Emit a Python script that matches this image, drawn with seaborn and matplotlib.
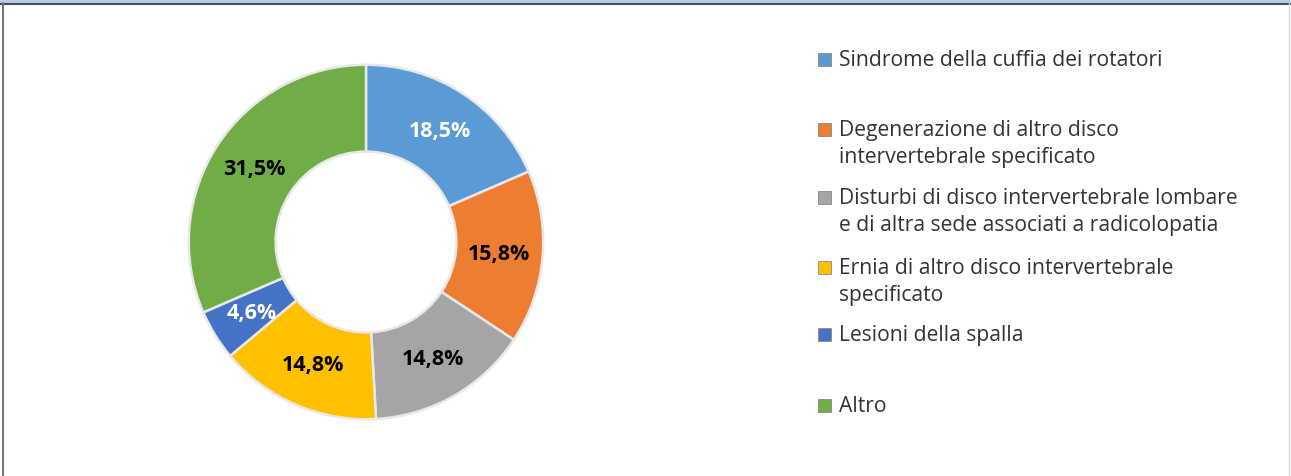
import numpy as np
import matplotlib.pyplot as plt
import seaborn as sns
from matplotlib.patches import Rectangle
from matplotlib.lines import Line2D

sns.set_theme(style="white")
plt.rcParams['font.family'] = ['Open Sans', 'DejaVu Sans']

# Data
categories = [
    "Sindrome della cuffia dei rotatori",
    "Degenerazione di altro disco\nintervertebrale specificato",
    "Disturbi di disco intervertebrale lombare\ne di altra sede associati a radicolopatia",
    "Ernia di altro disco intervertebrale\nspecificato",
    "Lesioni della spalla",
    "Altro",
]
shares = [18.5, 15.8, 14.8, 14.8, 4.6, 31.5]
colors = ["#5B9BD5", "#ED7D31", "#A5A5A5", "#FFC000", "#4472C4", "#70AD47"]
label_colors = ["white", "black", "black", "black", "white", "black"]

W, H = 1291, 477
fig = plt.figure(figsize=(W / 100, H / 100), dpi=100)

# donut: centre (366, 243) px, outer radius 179 px
cx, cy, r = 366, 243, 179
ax = fig.add_axes([(cx - r) / W, (H - cy - r) / H, 2 * r / W, 2 * r / H])
wedges, texts, autotexts = ax.pie(
    shares, colors=colors, startangle=90, counterclock=False,
    autopct=lambda p: f"{p:.1f}%".replace(".", ","), pctdistance=0.755,
    wedgeprops=dict(width=0.49, edgecolor="#e8e8e8", linewidth=1.8),
    textprops=dict(fontsize=15.5, fontweight="bold"))
for t, c in zip(autotexts, label_colors):
    t.set_color(c)
ax.set_xlim(-1.01, 1.01)
ax.set_ylim(-1.01, 1.01)
ax.set_aspect("equal")
ax.axis("off")

# legend, drawn manually to follow the uneven spacing of the original
legend_y = [60, 130, 198, 268, 335, 406]
for lab, col, y in zip(categories, colors, legend_y):
    fig.patches.append(Rectangle((818 / W, (H - y - 7) / H), 13 / W, 13 / H,
                                 transform=fig.transFigure, facecolor=col,
                                 edgecolor="#888888", linewidth=0.6))
    fig.text(839 / W, (H - y + 10) / H, lab, ha="left", va="top",
             fontsize=15.2, color="#333333", linespacing=1.38)

# frame lines of the original screenshot
fig.patches.append(Rectangle((0, 1 - 4 / H), 1, 4 / H, transform=fig.transFigure,
                             facecolor="#B9CDE5", edgecolor="none"))
fig.lines.append(Line2D([0, 1], [1 - 4.5 / H] * 2, transform=fig.transFigure,
                        color="#4A5060", linewidth=1.5))
fig.lines.append(Line2D([3.5 / W] * 2, [0, 1 - 4 / H], transform=fig.transFigure,
                        color="#777777", linewidth=1.5))
fig.lines.append(Line2D([1 - 2.5 / W] * 2, [0, 1 - 4 / H], transform=fig.transFigure,
                        color="#D8D8D8", linewidth=1.0))

fig.savefig("out.png", dpi=100, facecolor="white")
